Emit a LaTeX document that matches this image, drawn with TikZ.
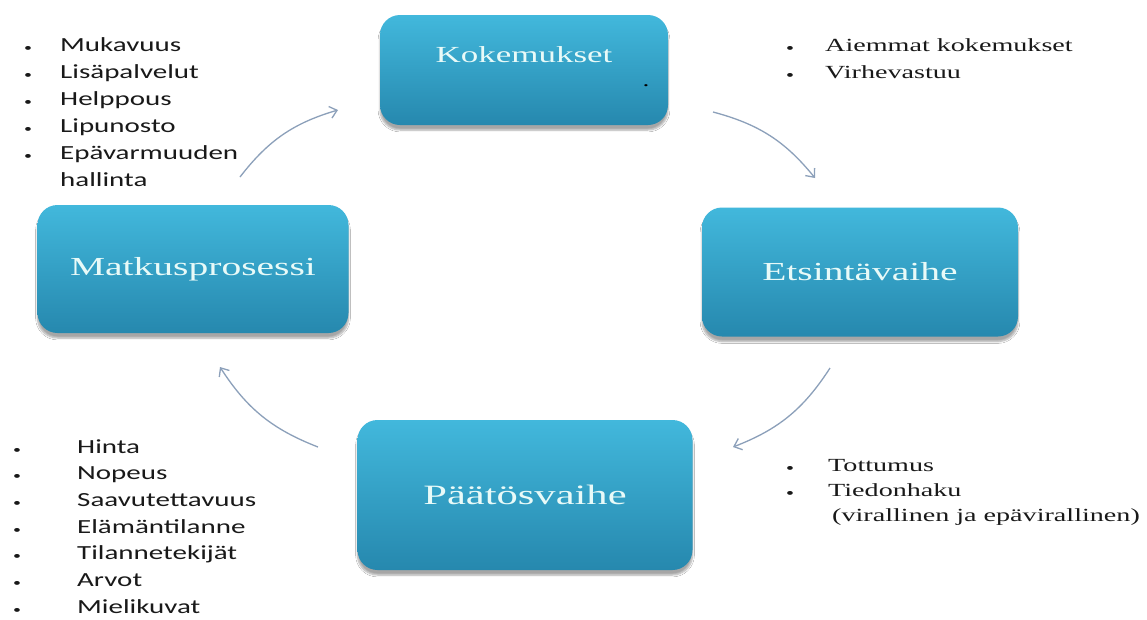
\documentclass[tikz,border=0pt]{standalone}
\usepackage{fontspec}
\setmainfont{Liberation Serif}
\newfontfamily\listsans[FakeStretch=1.45]{Carlito}
\newfontfamily\listserif[FakeStretch=1.52]{Liberation Serif}
\newfontfamily\phaseserif[FakeStretch=1.52]{Liberation Serif}
\usetikzlibrary{
  arrows.meta,
  shadows.blur
}
\definecolor{PhaseTop}{RGB}{66,184,220}
\definecolor{PhaseBottom}{RGB}{38,136,174}
\definecolor{PhaseText}{RGB}{232,250,248}
\definecolor{CycleArrow}{RGB}{140,160,186}
\definecolor{ListText}{RGB}{25,25,25}
\newcommand\lbul{{\listsans\fontsize{11}{11}\selectfont\textbullet}}
\tikzset{
  phase/.style={rounded corners=20pt,top color=PhaseTop,bottom color=PhaseBottom,draw=none,text=PhaseText,align=center,font=\phaseserif\fontsize{#1}{#1}\selectfont,blur shadow={shadow xshift=0pt,shadow yshift=-5pt,shadow opacity=35,shadow blur steps=6}},
  sanslist/.style={anchor=base west,inner sep=0pt,text=ListText,font=\listsans\fontsize{20}{#1}\selectfont},
  seriflist/.style={anchor=base west,inner sep=0pt,text=ListText,font=\listserif\fontsize{18.5}{#1}\selectfont},
  cyclearrow/.style={-{Straight Barb[length=7pt,width=12pt]},line width=1.3pt,draw=CycleArrow,bend left=18}
}

\begin{document}
\begin{tikzpicture}[x=1pt,y=1pt]
\fill[white] (0,0) rectangle (1147,-619);
\useasboundingbox (0,0) rectangle (1147,-619);
\node[phase=23,minimum width=288pt,minimum height=110pt,text depth=30pt] (koke) at (524,-70) {Kokemukset};
\node[phase=26,minimum width=316pt,minimum height=129pt] (etsin) at (860,-272) {Etsintävaihe};
\node[phase=28,minimum width=335pt,minimum height=150pt] (paat) at (525,-495) {Päätösvaihe};
\node[phase=26,minimum width=311pt,minimum height=128pt] (matkus) at (193,-269) {Matkusprosessi};
\node[font=\listserif\fontsize{18}{18}\selectfont,inner sep=0pt,anchor=base] (speck) at (646,-86) {.};
\node[sanslist=27] (matkuslist) at (24,-51.5) {\begin{tabular}[t]{@{}p{36pt}@{}l@{}}
\lbul & Mukavuus\\
\lbul & Lisäpalvelut\\
\lbul & Helppous\\
\lbul & Lipunosto\\
\lbul & Epävarmuuden\\
 & hallinta
\end{tabular}};
\node[seriflist=27] (kokelist) at (786,-51) {\begin{tabular}[t]{@{}p{39pt}@{}l@{}}
\lbul & Aiemmat kokemukset\\
\lbul & Virhevastuu
\end{tabular}};
\node[seriflist=25] (etsinlist) at (786,-471) {\begin{tabular}[t]{@{}p{42pt}@{}l@{}}
\lbul & Tottumus\\
\lbul & Tiedonhaku\\
 & \hspace{4pt}(virallinen ja epävirallinen)
\end{tabular}};
\node[sanslist=26.7] (paatlist) at (13,-453) {\begin{tabular}[t]{@{}p{64pt}@{}l@{}}
\lbul & Hinta\\
\lbul & Nopeus\\
\lbul & Saavutettavuus\\
\lbul & Elämäntilanne\\
\lbul & Tilannetekijät\\
\lbul & Arvot\\
\lbul & Mielikuvat
\end{tabular}};
\coordinate (m1) at (240,-177);
\coordinate (k0) at (338,-110);
\coordinate (k1) at (713,-112);
\coordinate (e0) at (815,-178);
\coordinate (e1) at (830,-368);
\coordinate (p0) at (733,-447);
\coordinate (p1) at (318,-447);
\coordinate (m0) at (220,-367);
\draw[cyclearrow] (m1) to (k0);
\draw[cyclearrow] (k1) to (e0);
\draw[cyclearrow] (e1) to (p0);
\draw[cyclearrow] (p1) to (m0);
\end{tikzpicture}
\end{document}
